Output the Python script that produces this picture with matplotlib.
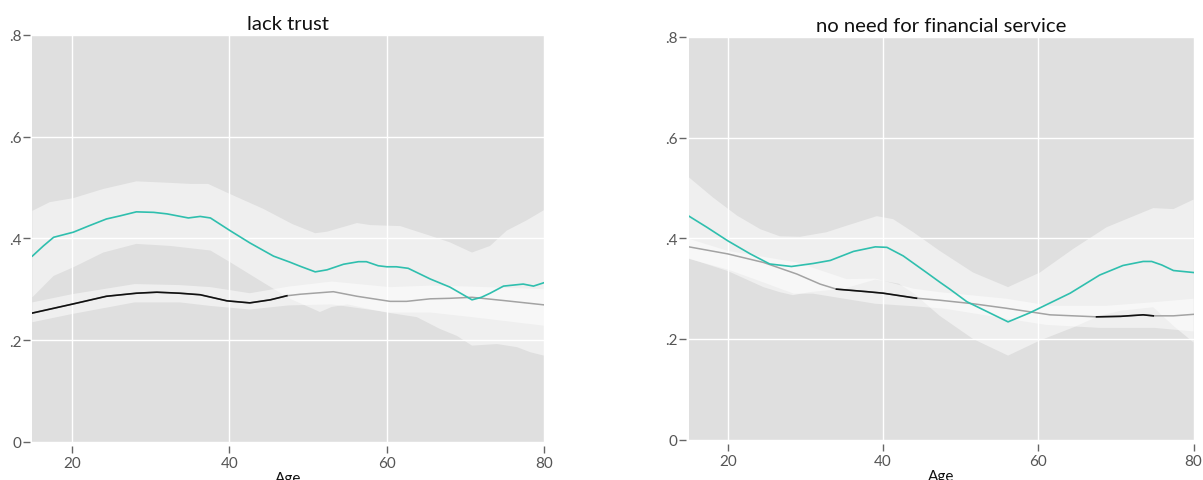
import numpy as np
import matplotlib
matplotlib.use("Agg")
import matplotlib.pyplot as plt

plt.rcParams["font.family"] = ["Lato", "DejaVu Sans"]

# ---- lack trust ----
trust_line_age = [15, 16.4, 17.7, 20.2, 22.1, 24.4, 26.1, 28.2, 30.4, 32.1, 34.8, 36.3,
                  37.6, 40.1, 42.6, 45.6, 47.7, 49, 50.9, 52.4, 54.5, 56.4, 57.4, 58.9,
                  60, 61.2, 62.7, 65.5, 68, 70.8, 72, 73.1, 74.8, 77.3, 78.6, 80]
trust_line = [0.365, 0.385, 0.402, 0.412, 0.424, 0.438, 0.444, 0.452, 0.451, 0.448, 0.440,
              0.443, 0.440, 0.415, 0.391, 0.365, 0.353, 0.345, 0.334, 0.338, 0.349, 0.354,
              0.354, 0.346, 0.344, 0.344, 0.341, 0.320, 0.304, 0.279, 0.284, 0.292, 0.306,
              0.310, 0.306, 0.313]
trust_hi_age = [15, 17.2, 20.2, 24, 28.2, 32.5, 35, 37.3, 40.1, 44.3, 48, 50.9, 52.4, 56.2,
                57.9, 61.7, 65.5, 68, 70.8, 73.1, 75.2, 77.7, 80]
trust_hi = [0.454, 0.471, 0.479, 0.497, 0.512, 0.509, 0.507, 0.507, 0.487, 0.458, 0.428,
            0.410, 0.413, 0.430, 0.426, 0.424, 0.405, 0.392, 0.372, 0.385, 0.415, 0.435, 0.456]
trust_lo_age = [15, 17.7, 20.2, 24, 28.2, 32.5, 37.6, 40.1, 44.3, 47.7, 50.5, 51.5, 53, 55,
                58, 60, 63.8, 66.7, 68.9, 70.8, 74, 76.5, 78.2, 80]
trust_lo = [0.284, 0.326, 0.343, 0.372, 0.389, 0.385, 0.376, 0.353, 0.313, 0.281, 0.262,
            0.255, 0.265, 0.270, 0.260, 0.254, 0.245, 0.222, 0.208, 0.189, 0.192, 0.186,
            0.176, 0.169]

trust_base_age = [15, 20.2, 24.4, 28.2, 30.8, 33.7, 36.3, 39.7, 42.6, 45.2, 47.3, 49, 53.2,
                  56.2, 60.4, 62.5, 65.5, 68, 70.8, 75.2, 80]
trust_base = [0.253, 0.271, 0.286, 0.292, 0.294, 0.292, 0.289, 0.277, 0.273, 0.279, 0.287,
              0.290, 0.295, 0.286, 0.276, 0.276, 0.281, 0.282, 0.284, 0.277, 0.269]
trust_base_band_age = [15, 20, 28, 33.7, 37.6, 42.6, 47.5, 53, 60.4, 65.5, 70.8, 80]
trust_base_hi = [0.274, 0.290, 0.310, 0.308, 0.304, 0.292, 0.305, 0.315, 0.304, 0.307, 0.305, 0.300]
trust_base_lo = [0.235, 0.251, 0.274, 0.274, 0.267, 0.260, 0.268, 0.270, 0.254, 0.254, 0.245, 0.228]
trust_sig = [(15, 47.3)]

# ---- no need for financial service ----
need_line_age = [15, 17.3, 20, 22.9, 25.4, 28.2, 31, 33.2, 36.2, 39, 40.5, 42.6, 45.6, 47.3,
                 48.6, 50.8, 56.1, 58.9, 64.1, 67.9, 70.9, 73.5, 74.6, 75.9, 77.4, 80]
need_line = [0.444, 0.422, 0.395, 0.369, 0.349, 0.344, 0.350, 0.356, 0.374, 0.383, 0.382,
             0.365, 0.332, 0.313, 0.299, 0.274, 0.234, 0.252, 0.291, 0.327, 0.346, 0.354,
             0.354, 0.347, 0.336, 0.332]
need_hi_age = [15, 18.1, 21.2, 24.2, 26.7, 29.3, 32.7, 35.3, 39.2, 41.3, 43.9, 47.3, 51.6,
               56.1, 60.2, 64.5, 68.8, 74.8, 77.4, 80]
need_hi = [0.521, 0.481, 0.445, 0.418, 0.404, 0.403, 0.412, 0.425, 0.444, 0.438, 0.412,
           0.375, 0.332, 0.303, 0.332, 0.379, 0.422, 0.460, 0.458, 0.477]
need_lo_age = [15, 20, 24.6, 26.7, 28.4, 30.5, 35, 39, 42, 44, 47.3, 51.6, 56.1, 60.2, 64.5,
               67.9, 70.6, 74.8, 77.4, 80]
need_lo = [0.360, 0.335, 0.303, 0.293, 0.287, 0.293, 0.300, 0.318, 0.310, 0.290, 0.246,
           0.200, 0.167, 0.197, 0.223, 0.246, 0.256, 0.263, 0.226, 0.193]

need_base_age = [15, 20, 24.6, 28.9, 31.9, 34, 37.9, 40, 44.3, 47.3, 51.6, 55.9, 61.5, 67.5,
                 70.6, 73.5, 74.8, 77.4, 80]
need_base = [0.383, 0.369, 0.352, 0.329, 0.309, 0.299, 0.294, 0.291, 0.281, 0.277, 0.270,
             0.261, 0.248, 0.244, 0.245, 0.248, 0.246, 0.246, 0.249]
need_base_hi_age = [15, 20, 28.9, 35.3, 39, 43.9, 47.3, 55.9, 61.5, 68.8, 74.8, 80]
need_base_hi = [0.399, 0.375, 0.352, 0.319, 0.320, 0.300, 0.293, 0.280, 0.266, 0.266, 0.273, 0.280]
need_base_lo_age = [15, 20, 25, 28.5, 31, 35, 39, 44, 48, 52, 56, 61, 68, 75, 80]
need_base_lo = [0.359, 0.338, 0.310, 0.290, 0.290, 0.280, 0.270, 0.265, 0.260, 0.250, 0.240,
                0.228, 0.222, 0.222, 0.215]
need_sig = [(34, 44.3), (67.5, 74.8)]

y_ticks = [0, 0.2, 0.4, 0.6, 0.8]
y_labels = ["0", ".2", ".4", ".6", ".8"]
x_ticks = [20, 40, 60, 80]

BG = "#dfdfdf"
TEAL = "#2fbfae"


def band(ax, hi_age, hi, lo_age, lo):
    # confidence band as a closed polygon: upper edge out, lower edge back
    xs = np.concatenate([hi_age, lo_age[::-1]])
    ys = np.concatenate([hi, lo[::-1]])
    ax.fill(xs, ys, color="white", alpha=0.5, lw=0, zorder=2)


def panel(ax, title, line_age, line, hi_age, hi, lo_age, lo,
          base_age, base, bhi_age, bhi, blo_age, blo, sig):
    ax.set_facecolor(BG)
    band(ax, hi_age, hi, lo_age, lo)
    band(ax, bhi_age, bhi, blo_age, blo)

    base_age = np.asarray(base_age, float)
    base = np.asarray(base, float)
    ax.plot(base_age, base, color="#a3a3a3", lw=1.1, zorder=3)
    # significant stretches of the baseline drawn in black
    for a, b in sig:
        seg = np.where((base_age >= a) & (base_age <= b), base, np.nan)
        ax.plot(base_age, seg, color="#111111", lw=1.2, zorder=4)
    ax.plot(line_age, line, color=TEAL, lw=1.2, zorder=5)

    ax.set_xlim(15, 80)
    ax.set_ylim(0, 0.8)
    ax.set_xticks(x_ticks)
    ax.set_yticks(y_ticks)
    ax.set_yticklabels(y_labels)
    ax.grid(True, color="white", lw=1.0)
    ax.set_axisbelow(True)
    for s in ax.spines.values():
        s.set_visible(False)
    ax.spines["left"].set_position(("outward", 2))
    ax.spines["bottom"].set_position(("outward", 3))
    ax.tick_params(axis="both", colors="#666666", labelcolor="#555555",
                   labelsize=11, length=5, width=1)
    ax.tick_params(axis="y", pad=1)
    ax.tick_params(axis="x", pad=2)
    ax.set_title(title, fontsize=14.6, color="#111111", pad=4)
    ax.set_xlabel("Age", fontsize=11, color="#111111", labelpad=1)


fig = plt.figure(figsize=(12.03, 4.81), dpi=100)
ax1 = fig.add_axes([0.0269, 0.0796, 0.4257, 0.8458])
ax2 = fig.add_axes([0.5727, 0.0838, 0.4195, 0.8374])

panel(ax1, "lack trust", trust_line_age, trust_line, trust_hi_age, trust_hi,
      trust_lo_age, trust_lo, trust_base_age, trust_base,
      trust_base_band_age, trust_base_hi, trust_base_band_age, trust_base_lo, trust_sig)
panel(ax2, "no need for financial service", need_line_age, need_line, need_hi_age, need_hi,
      need_lo_age, need_lo, need_base_age, need_base,
      need_base_hi_age, need_base_hi, need_base_lo_age, need_base_lo, need_sig)

fig.savefig("out.png", dpi=100, facecolor="white")
